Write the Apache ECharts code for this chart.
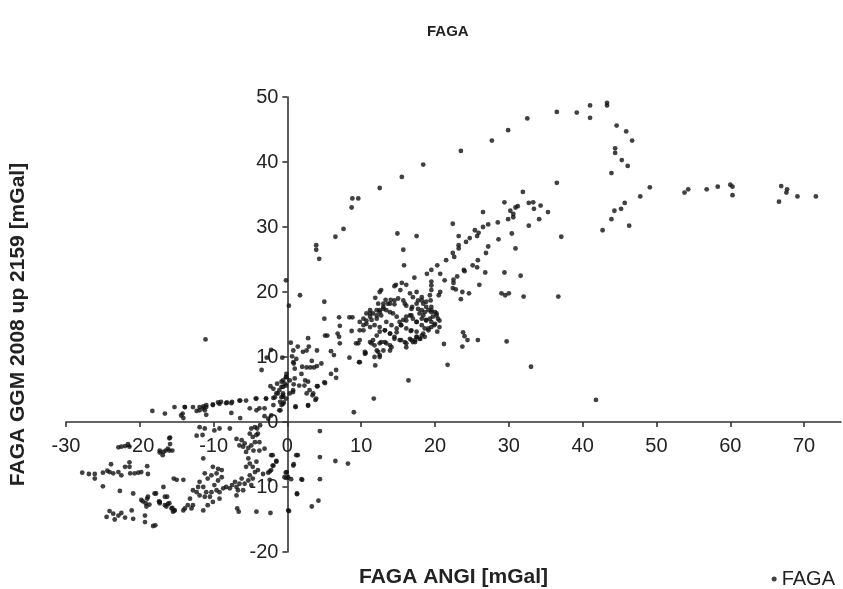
<!DOCTYPE html>
<html>
<head>
<meta charset="utf-8">
<title>FAGA</title>
<script src="https://cdn.jsdelivr.net/npm/echarts@6/dist/echarts.min.js"></script>
<style>
  html,body{margin:0;padding:0;background:#fff;}
  #chart{width:843px;height:589px;}
</style>
</head>
<body>
<div id="chart"></div>
<script>
// 轴刻度
var xTicks = [-30, -20, -10, 0, 10, 20, 30, 40, 50, 60, 70];
var yTicks = [-20, -10, 0, 10, 20, 30, 40, 50];

// 上面那条斜线 + 右边掉下来的点
var upperBranch = [
  [3.9,27.2],[3.9,26.5],[4.3,25.1],[6.5,28.5],[7.6,29.7],[8.7,33.0],[8.8,34.4],[9.6,34.4],
  [12.5,36.0],[15.5,37.7],[18.4,39.6],[23.5,41.7],[27.7,43.3],[29.9,44.9],[32.5,46.7],
  [36.5,47.7],[39.2,47.6],[41.0,48.7],[41.0,46.8],[43.3,49.1],[43.3,48.7],[44.6,45.6],
  [45.9,44.7],[46.7,43.3],[44.4,42.1],[44.4,41.4],[45.3,40.3],[46.1,39.4],[43.9,38.3]
];
// 右边平台
var plateau = [
  [49.1,36.1],[47.8,34.7],[45.7,33.7],[45.2,32.8],[44.3,32.5],[43.9,31.2],[42.7,29.5],[46.3,30.2],
  [37.1,28.5],[53.8,35.3],[54.3,35.8],[56.8,35.8],[58.3,36.2],[60.0,36.5],[60.3,36.2],[60.3,34.9],
  [66.9,36.3],[67.7,35.8],[67.6,35.3],[66.6,33.9],[69.1,34.7],[71.6,34.7],[41.8,3.4]
];
// 中间偏上的散点
var upperScatter = [
  [36.5,36.8],[31.9,35.4],[29.4,33.8],[30.2,32.5],[30.9,33.0],[31.2,33.2],[32.7,33.7],[33.3,33.8],
  [34.3,33.3],[33.4,32.8],[35.3,32.3],[29.9,31.2],[30.6,32.0],[30.6,31.5],[34.1,31.2],[32.7,30.2],
  [26.5,32.3],[28.5,30.7],[27.2,30.4],[26.5,30.0],[25.4,29.5],[25.9,29.1],[25.7,28.6],[24.7,28.3],
  [24.2,27.7],[23.2,28.6],[22.4,30.5],[23.2,27.2],[23.2,26.7],[22.4,26.0],[22.6,25.4],[21.5,24.9],
  [20.3,24.1],[19.5,23.4],[23.9,23.4],[25.1,24.1],[25.7,23.8],[25.8,24.9],[26.9,26.0],[27.2,27.0],
  [28.6,28.1],[30.4,29.0],[30.9,26.7],[14.9,29.0],[17.5,28.6],[15.7,26.5],[15.8,24.1],
  [18.9,22.8],[20.7,22.8],[24.0,23.2],[26.8,23.0],[17.2,22.2],[21.3,21.8],[22.5,21.9],[22.5,21.4],
  [23.0,22.4],[29.4,23.0],[31.6,22.5],[26.0,21.1],[19.5,21.6],[19.5,21.0],[15.5,21.4],[14.7,21.1],
  [14.5,20.9],[16.1,21.1],[22.4,20.6],[22.8,20.4],[23.7,20.0],[24.6,19.8],[23.5,18.9],[20.7,20.0],
  [20.5,19.5],[19.5,20.3],[19.3,19.5],[29.0,19.8],[29.5,19.5],[30.0,19.8],[32.0,19.3],[36.7,19.3]
];
// 右下零散的点
var rightScatter = [
  [23.8,13.8],[24.0,13.2],[24.4,12.6],[25.8,12.6],[23.7,11.6],[21.2,12.0],[29.7,12.4],[21.7,8.8],
  [33.0,8.5],[16.4,6.4],[11.7,3.6],[11.9,8.7],[10.6,10.6],[9.8,9.2]
];
// 主要的密集区
var mainCluster = [
  [11.9,19.1],[12.5,20.0],[12.7,20.3],[13.3,18.8],[14.0,18.8],[14.5,18.1],[15.0,19.0],[15.3,20.3],
  [15.9,18.2],[16.6,19.8],[16.9,17.7],[17.5,20.0],[17.7,18.7],[18.2,19.2],[18.4,18.2],[18.8,18.5],
  [19.4,18.7],[19.5,17.7],[17.0,19.2],[15.7,18.7],[13.9,18.2],[13.0,18.2],[12.3,18.2],[11.2,16.2],
  [17.7,17.4],[18.2,17.2],[18.6,16.9],[19.1,17.2],[19.5,16.9],[20.0,16.9],[20.2,16.7],[19.7,16.2],
  [19.3,15.9],[18.8,15.7],[18.4,16.4],[17.9,16.7],[20.4,15.9],[20.6,14.6],[20.0,15.1],[19.5,14.6],
  [19.1,14.1],[18.6,14.4],[18.2,14.9],[17.5,15.4],[17.0,15.9],[16.6,16.4],[16.1,16.2],[15.7,15.7],
  [15.2,15.4],[14.8,16.2],[14.3,16.7],[13.9,16.9],[13.4,17.2],[13.0,17.4],[12.5,16.9],[12.1,17.2],
  [11.6,16.7],[11.2,17.2],[10.7,16.7],[10.3,15.9],[9.8,15.4],[10.7,15.1],[11.4,15.7],[12.1,15.9],
  [12.7,16.4],[13.4,15.4],[14.1,14.9],[14.8,14.4],[15.4,14.9],[16.1,14.4],[16.8,14.1],[17.5,13.9],
  [18.2,13.3],[18.6,13.1],[17.9,12.8],[17.3,12.6],[16.6,12.8],[15.9,12.3],[15.2,12.6],[14.5,13.1],
  [13.9,13.6],[13.2,14.1],[12.5,13.9],[12.1,13.3],[11.6,12.6],[11.2,12.3],[11.8,11.8],[12.5,12.1],
  [13.2,12.3],[13.9,11.8],[13.0,11.0],[12.3,10.8],[11.8,10.0],[12.5,10.0],[13.9,11.0],[16.1,11.5],
  [17.0,12.3],[17.5,13.1],[20.3,13.9],[16.7,14.0],[10.3,14.1],[9.8,12.6],[10.5,10.5],
  [11.2,16.7],[12.1,16.4],[12.5,17.2],[13.0,17.7],[13.6,18.2],[14.5,18.7],[16.1,17.9],[16.8,17.4],
  [17.5,18.2],[18.2,18.7],[18.8,17.7],[19.5,17.2],[20.2,16.4],[20.6,15.6],[19.9,14.9],[19.1,14.4],
  [18.4,13.6],[17.5,13.1],[16.8,12.6],[16.1,12.1],[15.4,12.6],[14.5,12.8],[13.9,13.6],[13.2,14.1],
  [12.5,14.6],[11.8,14.9],[11.2,14.6],[10.7,15.6],[10.3,14.9],[9.8,14.1],[9.6,12.1],[10.5,10.8],
  [11.4,12.1],[12.1,11.0],[12.5,10.3],[12.7,12.3],[13.4,12.1],[14.1,11.5],[14.8,13.8],[15.4,14.9],
  [16.1,15.6],[16.8,16.4],[17.5,15.4],[18.2,15.9],[18.8,15.6],[19.5,15.4],[18.0,12.8],[17.3,12.3]
];
// 原点附近
var nearOrigin = [
  [0.2,17.9],[5.0,18.5],[5.0,15.9],[7.0,16.1],[8.4,16.1],[8.8,16.1],[7.1,14.8],[5.1,13.3],
  [5.4,13.3],[6.8,13.6],[7.0,13.1],[7.1,12.1],[8.7,14.0],[0.45,12.2],[1.4,11.6],[0.8,11.0],
  [2.8,12.9],[2.9,11.6],[2.1,10.8],[2.6,11.0],[4.0,11.0],[5.9,10.9],[6.3,10.3],[8.4,9.9],
  [9.7,9.2],[9.3,12.1],[0.63,10.1],[1.2,9.7],[0.8,9.2],[3.3,9.4],[4.6,9.0],[2.0,8.5],
  [2.6,8.4],[3.1,8.4],[3.6,8.4],[4.0,8.6],[5.9,7.4],[6.6,8.0],[6.6,6.8],[5.0,6.1],
  [4.0,5.5],[-0.14,7.4],[-0.59,6.4],[-0.14,6.9],[0.32,6.4],[-0.81,5.4],[-0.36,5.9],[0.99,8.2],
  [0.99,6.7],[1.9,7.4],[2.4,6.4],[1.6,5.6],[2.8,6.2],[3.0,4.9],[3.5,4.4],[3.8,3.4],
  [0.77,4.9],[0.32,4.4],[-0.81,3.8],[-0.59,2.8],[-0.95,1.8],[1.1,2.3],[2.8,2.5],[9.0,1.5],
  [0.86,9.0],[1.7,19.5],[-0.2,21.8],[-11.1,12.7],[-2.2,11.1],[-2.8,9.9],[-3.5,8.0],[-0.7,9.9],
  [-2.3,5.5],[-1.9,5.1],[-1.4,5.9],[-1.1,4.9],[-0.6,5.4],[-0.8,6.2],[-1.5,4.4],[-0.6,4.4],
  [-0.2,6.9],[-0.2,5.6],[-1.0,3.1],[-0.2,3.6],[-1.9,2.6],
  [1.1,2.4],[2.8,2.6],[3.9,3.6],[3.4,4.1],[2.6,4.4],[2.3,5.6],[4.1,5.5],[5.1,6.0],
  [0.76,4.6],[0.85,5.8],[-1.7,3.8],[-1.3,4.4],[-0.6,4.1]
];
// 零线附近往左的那一串
var leftBand = [
  [-4.2,3.6],[-2.9,3.6],[-5.6,3.3],[-6.5,3.3],[-7.6,2.9],[-8.3,2.9],[-9.2,2.8],[-10.1,2.6],
  [-11.0,2.6],[-11.9,2.3],[-12.8,2.3],[-13.9,2.3],[-11.4,2.4],
  [-18.3,1.7],[-16.6,1.3],[-15.3,2.3],[-13.9,2.3],[-14.4,1.0],[-14.1,0.6],[-14.2,1.3],
  [-12.3,1.7],[-11.9,1.8],[-11.4,2.1],[-11.0,2.3],[-11.2,1.8],[-10.1,2.7],[-9.4,3.0],[-9.0,3.1],
  [-8.2,3.0],[-7.5,3.1],[-6.4,3.3],[-11.0,1.1],[-7.6,1.4],[-6.4,0.6],[-5.1,2.1],[-4.2,1.8],
  [-3.8,2.1],[-3.1,2.1],[-4.3,3.6],[-2.9,3.6],[-1.9,3.7],[-0.6,3.9],[-1.1,1.8],[-0.8,2.6],
  [-0.5,3.0],[-2.2,1.0],[-2.6,0.5],[-3.1,0.9]
];
// 零线以下
var belowAxis = [
  [-11.9,-0.8],[-11.2,-1.0],[-11.5,-2.0],[-12.3,-2.1],[-9.9,-1.3],[-9.2,-1.0],[-7.8,-1.0],
  [-16.0,-2.5],[-16.9,-5.1],[-17.3,-4.7],[-16.0,-4.4],[-15.6,-4.4],[-11.4,-5.6],
  [-6.9,-2.6],[-6.2,-2.8],[-6.5,-3.6],[-5.8,-3.3],[-5.1,-1.8],[-4.7,-2.3],[-4.2,-2.0],[-4.1,-1.0],
  [-4.0,-1.8],[-3.8,-3.1],[-4.4,-3.1],[-4.9,-3.6],[-5.3,-4.0],[-6.0,-3.8],[-5.6,-4.6],[-4.6,-4.4],
  [-3.8,-4.4],[-3.1,-4.1],[-2.2,-5.1],[-4.9,-1.0],[-3.7,-0.5],[-4.4,-0.8],
  [-1.5,-6.1],[-2.0,-6.7],[-2.4,-7.6],[-2.6,-7.8],[-3.3,-8.0],[0.8,-6.7],[1.2,-5.1],[1.3,-11.0],
  [-5.3,-5.6],[-5.1,-6.4],[-4.7,-6.9],[-5.6,-6.9],[-4.4,-7.7],[-5.1,-8.2],[-5.3,-9.0],[-4.7,-8.7],
  [-4.2,-6.1],[-4.0,-7.4],[-4.9,-9.7],[-5.8,-9.5],[-6.5,-9.5],[-6.9,-10.0],[-7.1,-9.2],[-6.2,-8.7],
  [-6.9,-11.3],[-6.0,-10.5],[-6.7,-10.5],[-0.1,-7.7],[-0.4,-8.5],[0.1,-8.5],[0.1,-13.6],
  [-6.6,-13.8],[-4.2,-13.8],[-2.3,-14.0],[-18.2,-16.0],[-17.9,-15.9],
  [4.4,-1.4],[4.4,-5.4],[6.5,-6.0],[8.2,-6.4],[1.4,-5.1],[0.85,-6.5],[2.0,-8.9],[1.9,-8.8],
  [4.4,-8.8],[1.3,-11.1],[4.2,-12.1],[3.3,-13.0],[0.22,-13.7],
  [-2.0,-5.1],[-1.5,-6.0],[-1.9,-6.7],[-2.2,-7.4],[-2.4,-8.9],[-0.23,-7.8],[-0.14,-8.6],[0.5,-8.8]
];
// 左下的斜带
var lowerLeft = [
  [-10.1,-6.9],[-9.4,-7.2],[-8.9,-7.4],[-9.6,-7.9],[-10.3,-8.2],[-10.8,-8.7],[-11.2,-7.9],[-11.9,-9.2],
  [-12.1,-10.0],[-11.4,-10.0],[-12.3,-10.8],[-12.8,-10.5],[-13.2,-11.8],[-13.9,-13.3],[-14.1,-13.6],
  [-15.3,-13.6],[-15.5,-13.8],[-15.7,-13.3],[-16.2,-12.6],[-16.6,-12.8],[-17.3,-12.3],[-18.0,-11.0],
  [-16.6,-11.5],[-11.9,-11.3],[-11.2,-11.5],[-10.5,-11.5],[-10.1,-12.3],[-10.8,-12.8],[-11.4,-13.6],
  [-12.8,-12.8],[-9.6,-10.5],[-9.2,-10.8],[-8.7,-10.2],[-8.3,-10.0],[-7.8,-10.2],[-7.5,-9.7],
  [-6.8,-13.3],[-9.2,-11.8],[-10.3,-10.8],[-11.0,-10.8],[-9.9,-9.7],[-9.4,-9.0],[-8.9,-8.5],
  [-22.9,-3.9],[-22.5,-3.8],[-22.0,-3.7],[-21.6,-3.4],[-21.4,-3.8],[-17.3,-4.4],[-16.8,-4.6],
  [-16.5,-4.4],[-15.9,-2.4],[-15.9,-3.4],[-16.2,-4.1],
  [-27.8,-7.8],[-26.9,-8.0],[-26.1,-8.0],[-26.1,-8.7],[-25.0,-7.8],[-24.4,-7.5],[-24.1,-7.7],
  [-23.6,-7.9],[-23.9,-6.5],[-22.9,-7.7],[-22.5,-8.2],[-22.0,-6.9],[-21.4,-6.2],[-21.4,-6.9],
  [-21.3,-7.9],[-20.7,-7.9],[-20.2,-7.8],[-19.8,-7.7],[-19.0,-6.8],[-18.9,-8.0],[-25.0,-9.9],
  [-22.7,-10.6],[-20.9,-11.0],[-19.6,-12.2],[-19.2,-12.5],[-18.7,-12.7],[-19.0,-11.8],[-17.8,-11.0],
  [-17.4,-12.2],[-16.8,-10.0],[-16.3,-11.5],[-16.0,-12.5],[-15.6,-13.2],[-15.3,-13.6],[-15.4,-8.7],
  [-15.0,-8.9],[-14.1,-8.9],[-24.1,-13.7],[-23.6,-14.1],[-22.9,-14.4],[-22.5,-14.0],[-22.0,-14.7],
  [-21.1,-13.6],[-20.9,-14.9],[-19.3,-14.4],[-19.3,-15.4],[-24.5,-14.6],[-23.4,-15.0],
  [-19.8,-12.0],[-19.1,-13.0],[-18.9,-11.5],[-17.3,-12.5],[-16.4,-13.0],[-13.5,-12.8],[-13.0,-13.3]
];

var allPoints = [].concat(upperBranch, plateau, upperScatter, rightScatter, mainCluster,
  nearOrigin, leftBand, belowAxis, lowerLeft);

var myChart = echarts.init(document.getElementById('chart'));
var fontName = 'Liberation Sans, Arial, sans-serif';
var labelFont = { fontFamily: fontName, fontSize: 20, color: '#222' };
var nameFont = { fontFamily: fontName, fontSize: 21, fontWeight: 'bold', color: '#222' };

//坐标轴交在0点：用offset把轴线挪过去(标签和轴名跟着走)
var option = {
  animation: false,
  backgroundColor: '#fff',
  title: {
    text: 'FAGA',
    left: 422,
    top: 19,
    textStyle: { fontFamily: fontName, fontSize: 15, fontWeight: 'bold', color: '#222' }
  },
  legend: {
    data: ['FAGA'],
    right: 3,
    top: 564,
    icon: 'circle',
    itemWidth: 5,
    itemHeight: 5,
    itemGap: 5,
    textStyle: { fontFamily: fontName, fontSize: 20, color: '#222' }
  },
  grid: {
    left: 66,
    right: 2,
    top: 97,
    bottom: 37,
    containLabel: false,
    outerBoundsMode: 'none'
  },
  xAxis: {
    type: 'value',
    position: 'bottom',
    offset: -130,
    min: -30,
    max: 75,
    interval: 10,
    name: 'FAGA ANGI [mGal]',
    nameLocation: 'middle',
    nameGap: 145,
    nameTextStyle: nameFont,
    axisLine: { onZero: false, lineStyle: { color: '#333', width: 1.6 } },
    axisTick: { show: true, length: 5, lineStyle: { color: '#333', width: 1.6 }, customValues: xTicks },
    axisLabel: Object.assign({ margin: 14, customValues: xTicks }, labelFont),
    splitLine: { show: false }
  },
  yAxis: {
    type: 'value',
    position: 'left',
    offset: -221.4,
    min: -20,
    max: 50,
    interval: 10,
    name: 'FAGA GGM 2008 up 2159 [mGal]',
    nameLocation: 'middle',
    nameGap: 259,
    nameTextStyle: nameFont,
    axisLine: { onZero: false, lineStyle: { color: '#333', width: 1.6 } },
    axisTick: { show: true, length: 5, lineStyle: { color: '#333', width: 1.6 }, customValues: yTicks },
    axisLabel: Object.assign({ margin: 9, customValues: yTicks }, labelFont),
    splitLine: { show: false }
  },
  series: [{
    name: 'FAGA',
    type: 'scatter',
    symbol: 'circle',
    symbolSize: 4.8,
    itemStyle: { color: '#111' },
    data: allPoints
  }]
};
myChart.setOption(option);
</script>
</body>
</html>
